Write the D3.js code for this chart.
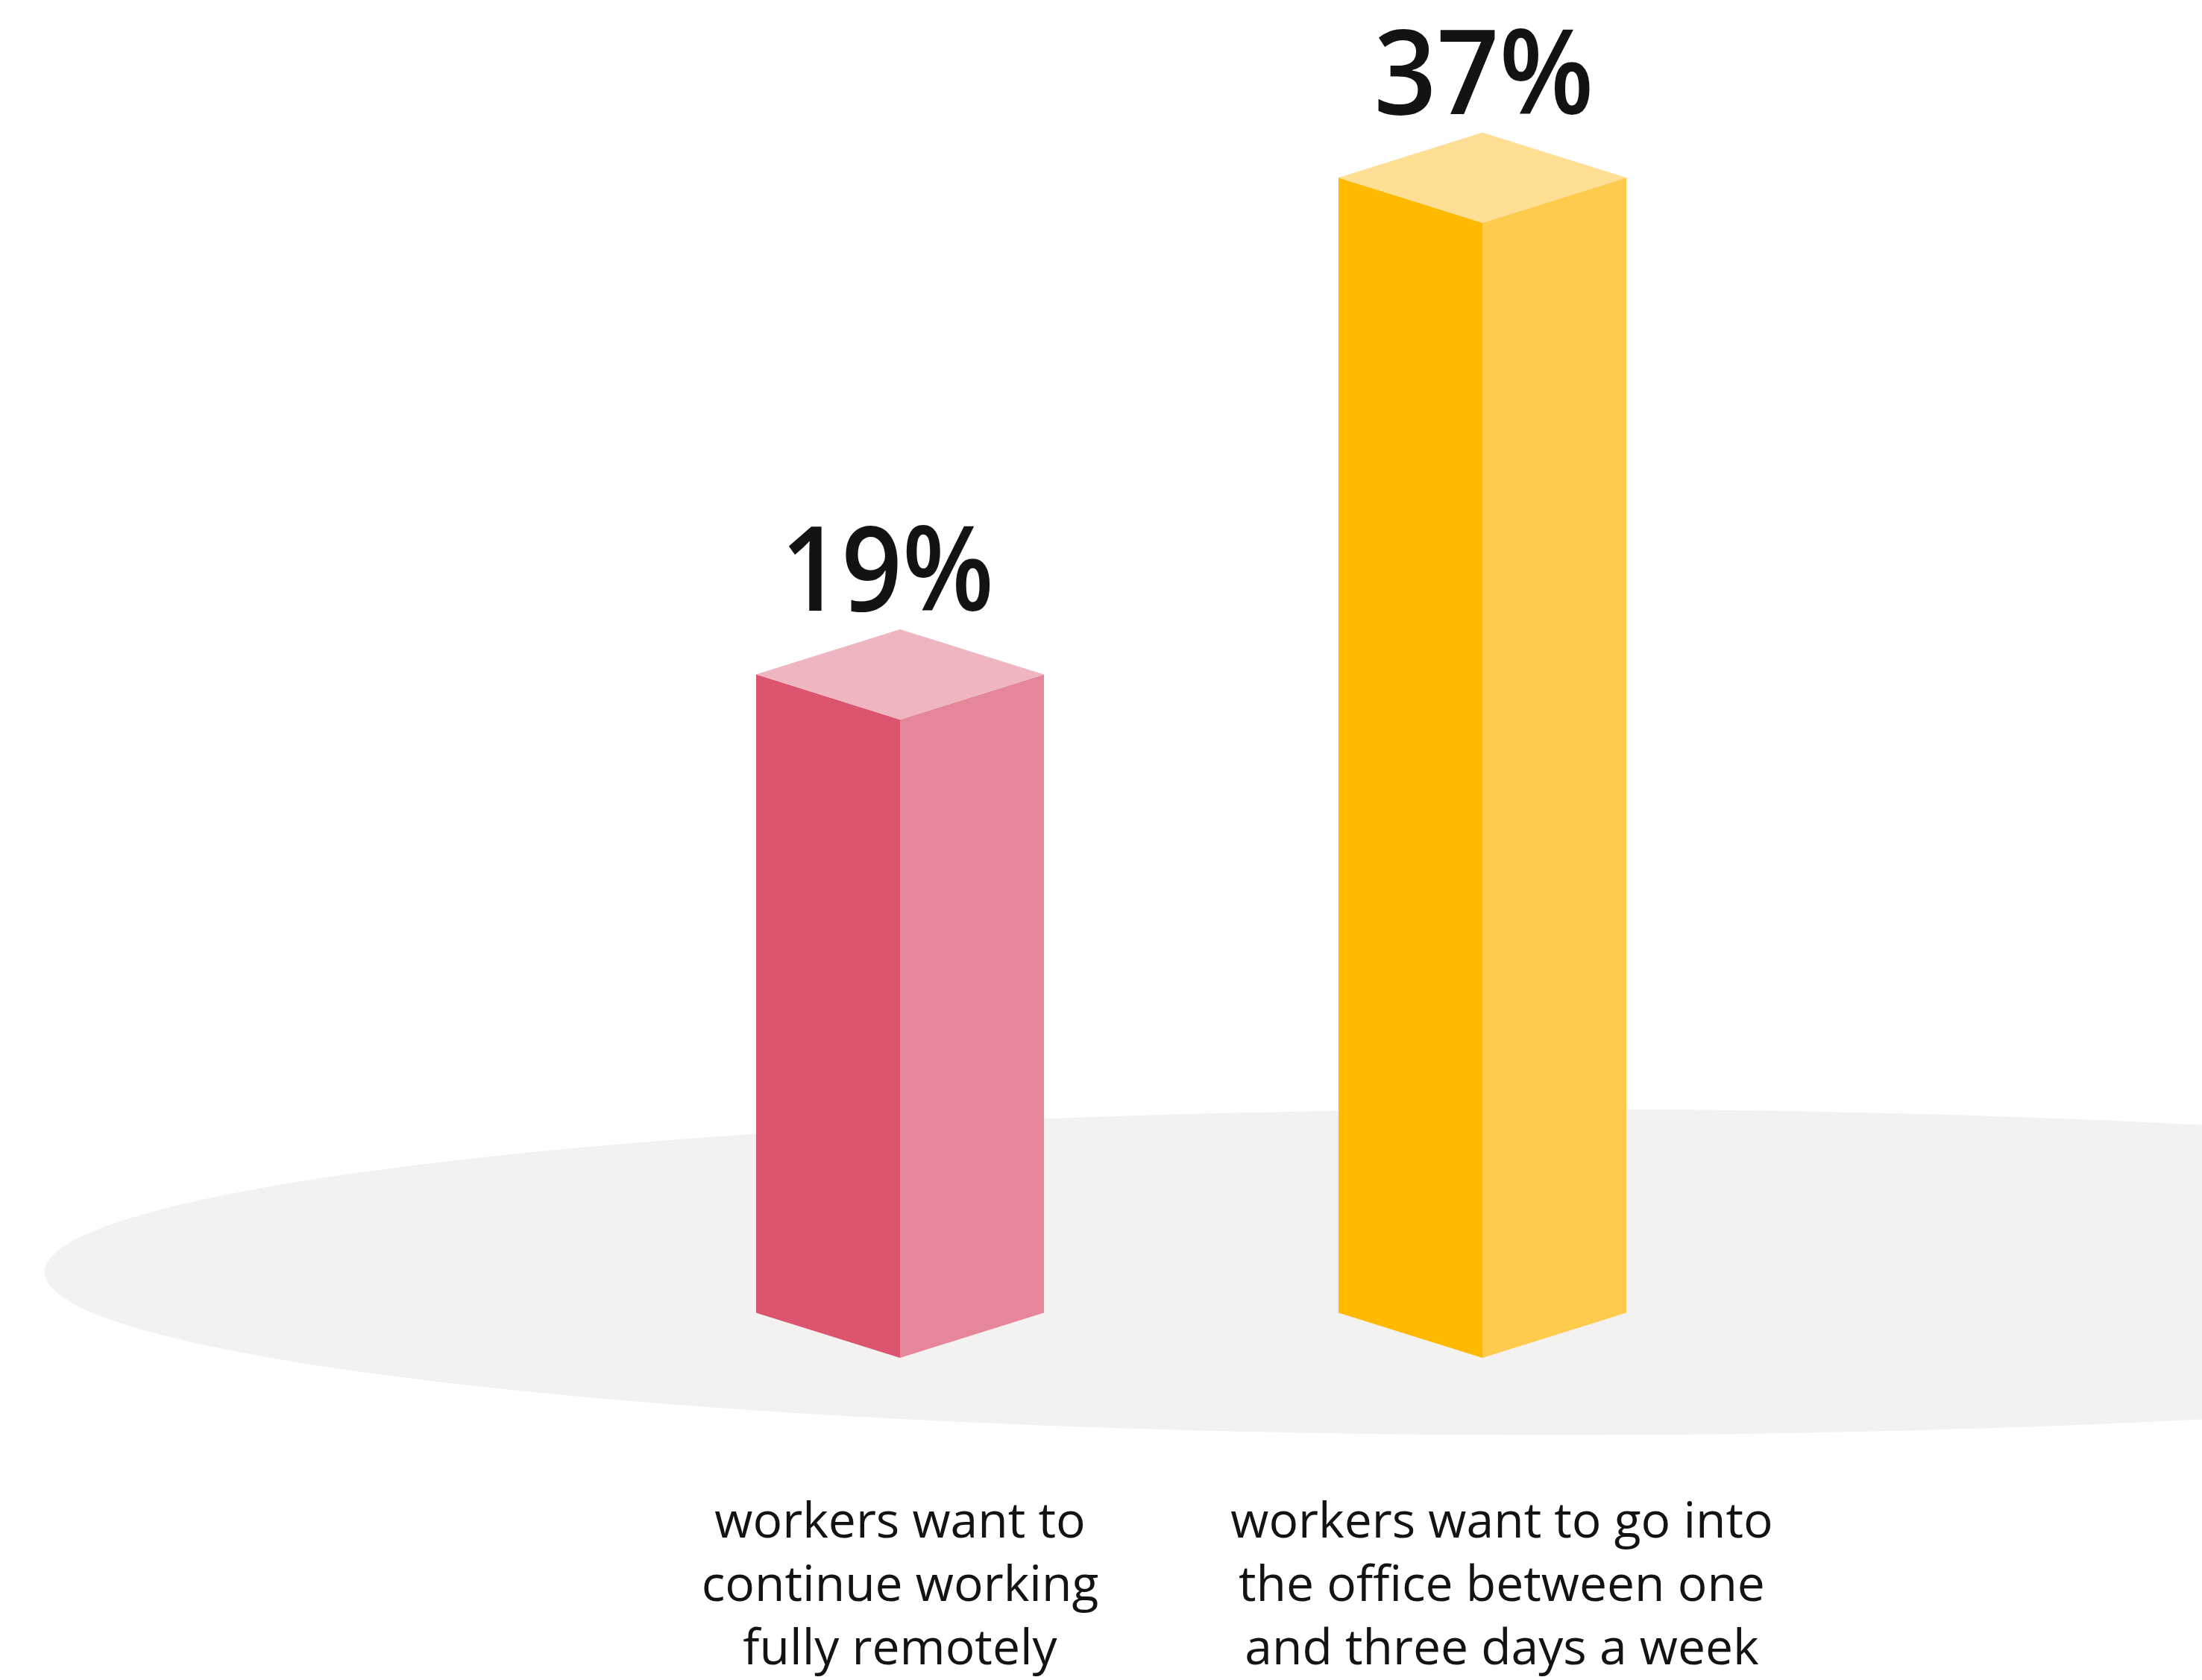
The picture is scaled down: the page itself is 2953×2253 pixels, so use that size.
<!DOCTYPE html>
<html>
<head>
<meta charset="UTF-8">
<title></title>
<script src="https://cdn.jsdelivr.net/npm/d3@7"></script>
<style>
    body{ margin:0; padding:0; background:#fff; }
    svg{ display:block; }
    text{ font-family:"Open Sans","Noto Sans",sans-serif; fill:#131313; }
</style>
</head>
<body>
<div id="chart"></div>
<script>
var categories = ["remote", "office"];
var values = [19, 37];
var valueLabels = ["19%", "37%"];
var captions = [
    ["workers want to", "continue working", "fully remotely"],
    ["workers want to go into", "the office between one", "and three days a week"]
];
var frontColors = ["#dc556e", "#ffb900"];
var sideColors = ["#e68799", "#ffcb4d"];
var topColors = ["#efb5c1", "#ffdf93"];
var labelShift = [-17, 2];
var labelStretch = [0.9, 0.93];
var captionShift = [0, 26];

var width = 2953, height = 2253;
var svg = d3.select("#chart").append("svg").attr("width", width).attr("height", height);

var x = d3.scalePoint().domain(categories).range([1207, 1988]);
// the bars in the picture are not zero based, their foot sits a bit under 0
var floorValue = -4.13;
var y = d3.scaleLinear().domain([floorValue, 37]).range([1821, 298.7]);

var halfW = 193, dip = 60.5;

svg.append("ellipse")
    .attr("cx", 2085).attr("cy", 1706)
    .attr("rx", 2025).attr("ry", 218.5)
    .attr("fill", "#f3f2f1");

var bars = svg.selectAll(".bar").data(categories).enter().append("g").attr("class", "bar");

bars.append("path")
    .attr("fill", function(d,i){ return frontColors[i]; })
    .attr("d", function(d,i){
        var c = x(d), b = y(floorValue), t = y(values[i]);
        return "M"+(c-halfW)+","+(t-dip)+"L"+c+","+t+"L"+c+","+b+"L"+(c-halfW)+","+(b-dip)+"Z";
    });
bars.append("path")
    .attr("fill", function(d,i){ return sideColors[i]; })
    .attr("d", function(d,i){
        var c = x(d), b = y(floorValue), t = y(values[i]);
        return "M"+c+","+t+"L"+(c+halfW)+","+(t-dip)+"L"+(c+halfW)+","+(b-dip)+"L"+c+","+b+"Z";
    });
bars.append("path")
    .attr("fill", function(d,i){ return topColors[i]; })
    .attr("d", function(d,i){
        var c = x(d), t = y(values[i]);
        return "M"+c+","+t+"L"+(c+halfW)+","+(t-dip)+"L"+c+","+(t-2*dip)+"L"+(c-halfW)+","+(t-dip)+"Z";
    });

bars.append("text")
    .attr("transform", function(d,i){
        return "translate("+(x(d)+labelShift[i])+","+(y(values[i])-2*dip-25)+") scale("+labelStretch[i]+",1)";
    })
    .attr("text-anchor", "middle")
    .attr("font-size", 158)
    .attr("font-weight", 600)
    .text(function(d,i){ return valueLabels[i]; });

bars.each(function(d,i){
    d3.select(this).selectAll(".cap").data(captions[i]).enter().append("text")
        .attr("class", "cap")
        .attr("x", x(d)+captionShift[i])
        .attr("y", function(line,j){ return 2062+j*85; })
        .attr("text-anchor", "middle")
        .attr("font-size", 66)
        .text(function(line){ return line; });
});
</script>
</body>
</html>
